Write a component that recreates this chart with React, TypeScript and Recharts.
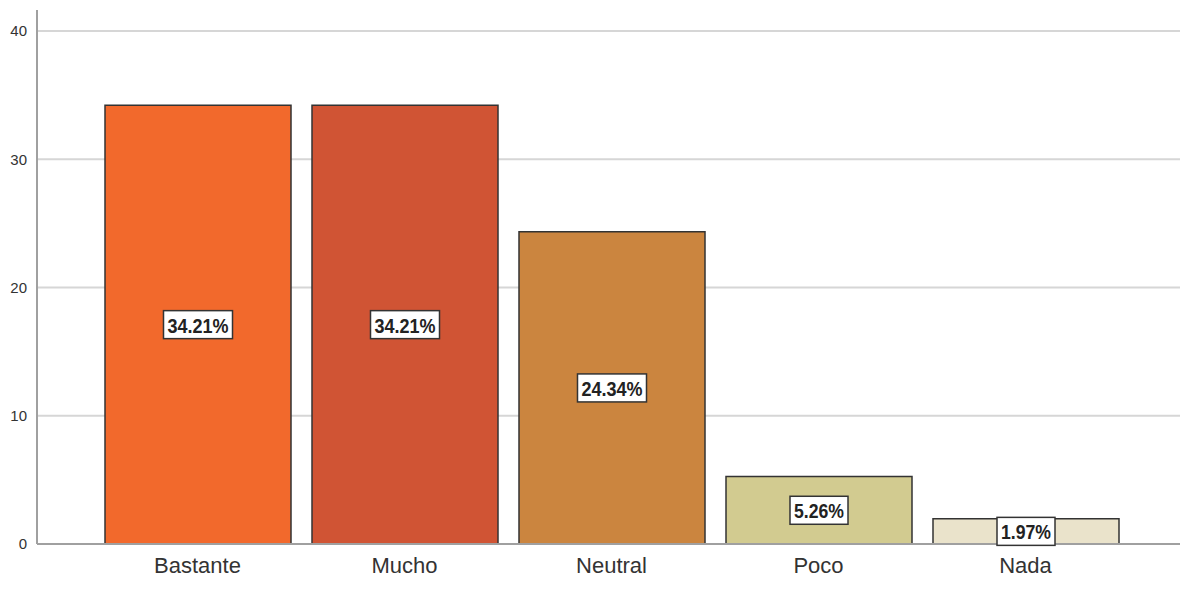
import { BarChart, Bar, XAxis, YAxis, CartesianGrid, Cell, LabelList } from "recharts";

const categorias = ["Bastante", "Mucho", "Neutral", "Poco", "Nada"];
const porcentajes = [34.21, 34.21, 24.34, 5.26, 1.97];
const colores = ["#F2692C", "#D05434", "#CB853F", "#D2CB90", "#EAE3CB"];
const ticksY = [0, 10, 20, 30, 40];

const data = categorias.map((c, i) => ({ categoria: c, valor: porcentajes[i] }));

// white boxed percentage label centred in the bar
function EtiquetaCaja(props: any) {
  const { x, y, width, height, value } = props;
  const texto = `${Number(value).toFixed(2)}%`;
  const digitos = texto.replace(/[^0-9]/g, "").length;
  const w = 25 + digitos * 11;
  const h = 28;
  const cx = x + width / 2;
  const cy = y + height / 2;
  return (
    <g>
      <rect x={cx - w / 2} y={cy - h / 2} width={w} height={h} fill="#fff" stroke="#333" strokeWidth={1.5} />
      <text
        x={cx}
        y={cy + 1}
        textAnchor="middle"
        dominantBaseline="central"
        fontFamily="'Liberation Sans', Arial, sans-serif"
        fontWeight="bold"
        fontSize={20}
        textLength={w - 8}
        lengthAdjust="spacingAndGlyphs"
        fill="#222"
      >
        {texto}
      </text>
    </g>
  );
}

export default function App() {
  return (
    <div style={{ position: "absolute", left: 0, top: 0, background: "#fff" }}>
      <BarChart
        width={1180}
        height={589}
        data={data}
        margin={{ top: 10, right: 0, bottom: 0, left: 0 }}
        barSize={186}
        style={{ fontFamily: "'Liberation Sans', Arial, sans-serif" }}
      >
        <CartesianGrid vertical={false} horizontalValues={ticksY} stroke="#d6d6d6" strokeWidth={2} />
        <XAxis
          dataKey="categoria"
          height={45}
          padding={{ left: 57, right: 51 }}
          tickLine={false}
          tickMargin={7}
          axisLine={{ stroke: "#a0a0a0", strokeWidth: 2 }}
          tick={{ fontSize: 22, fill: "#333" }}
        />
        <YAxis
          width={37}
          domain={[0, 41.64]}
          ticks={ticksY}
          tickLine={false}
          tickMargin={4}
          axisLine={{ stroke: "#a0a0a0", strokeWidth: 2 }}
          tick={{ fontSize: 15, fill: "#333" }}
        />
        <Bar dataKey="valor" stroke="#333" strokeWidth={1.5} isAnimationActive={false}>
          {data.map((d, i) => (
            <Cell key={d.categoria} fill={colores[i]} />
          ))}
          <LabelList dataKey="valor" content={<EtiquetaCaja />} />
        </Bar>
      </BarChart>
    </div>
  );
}
